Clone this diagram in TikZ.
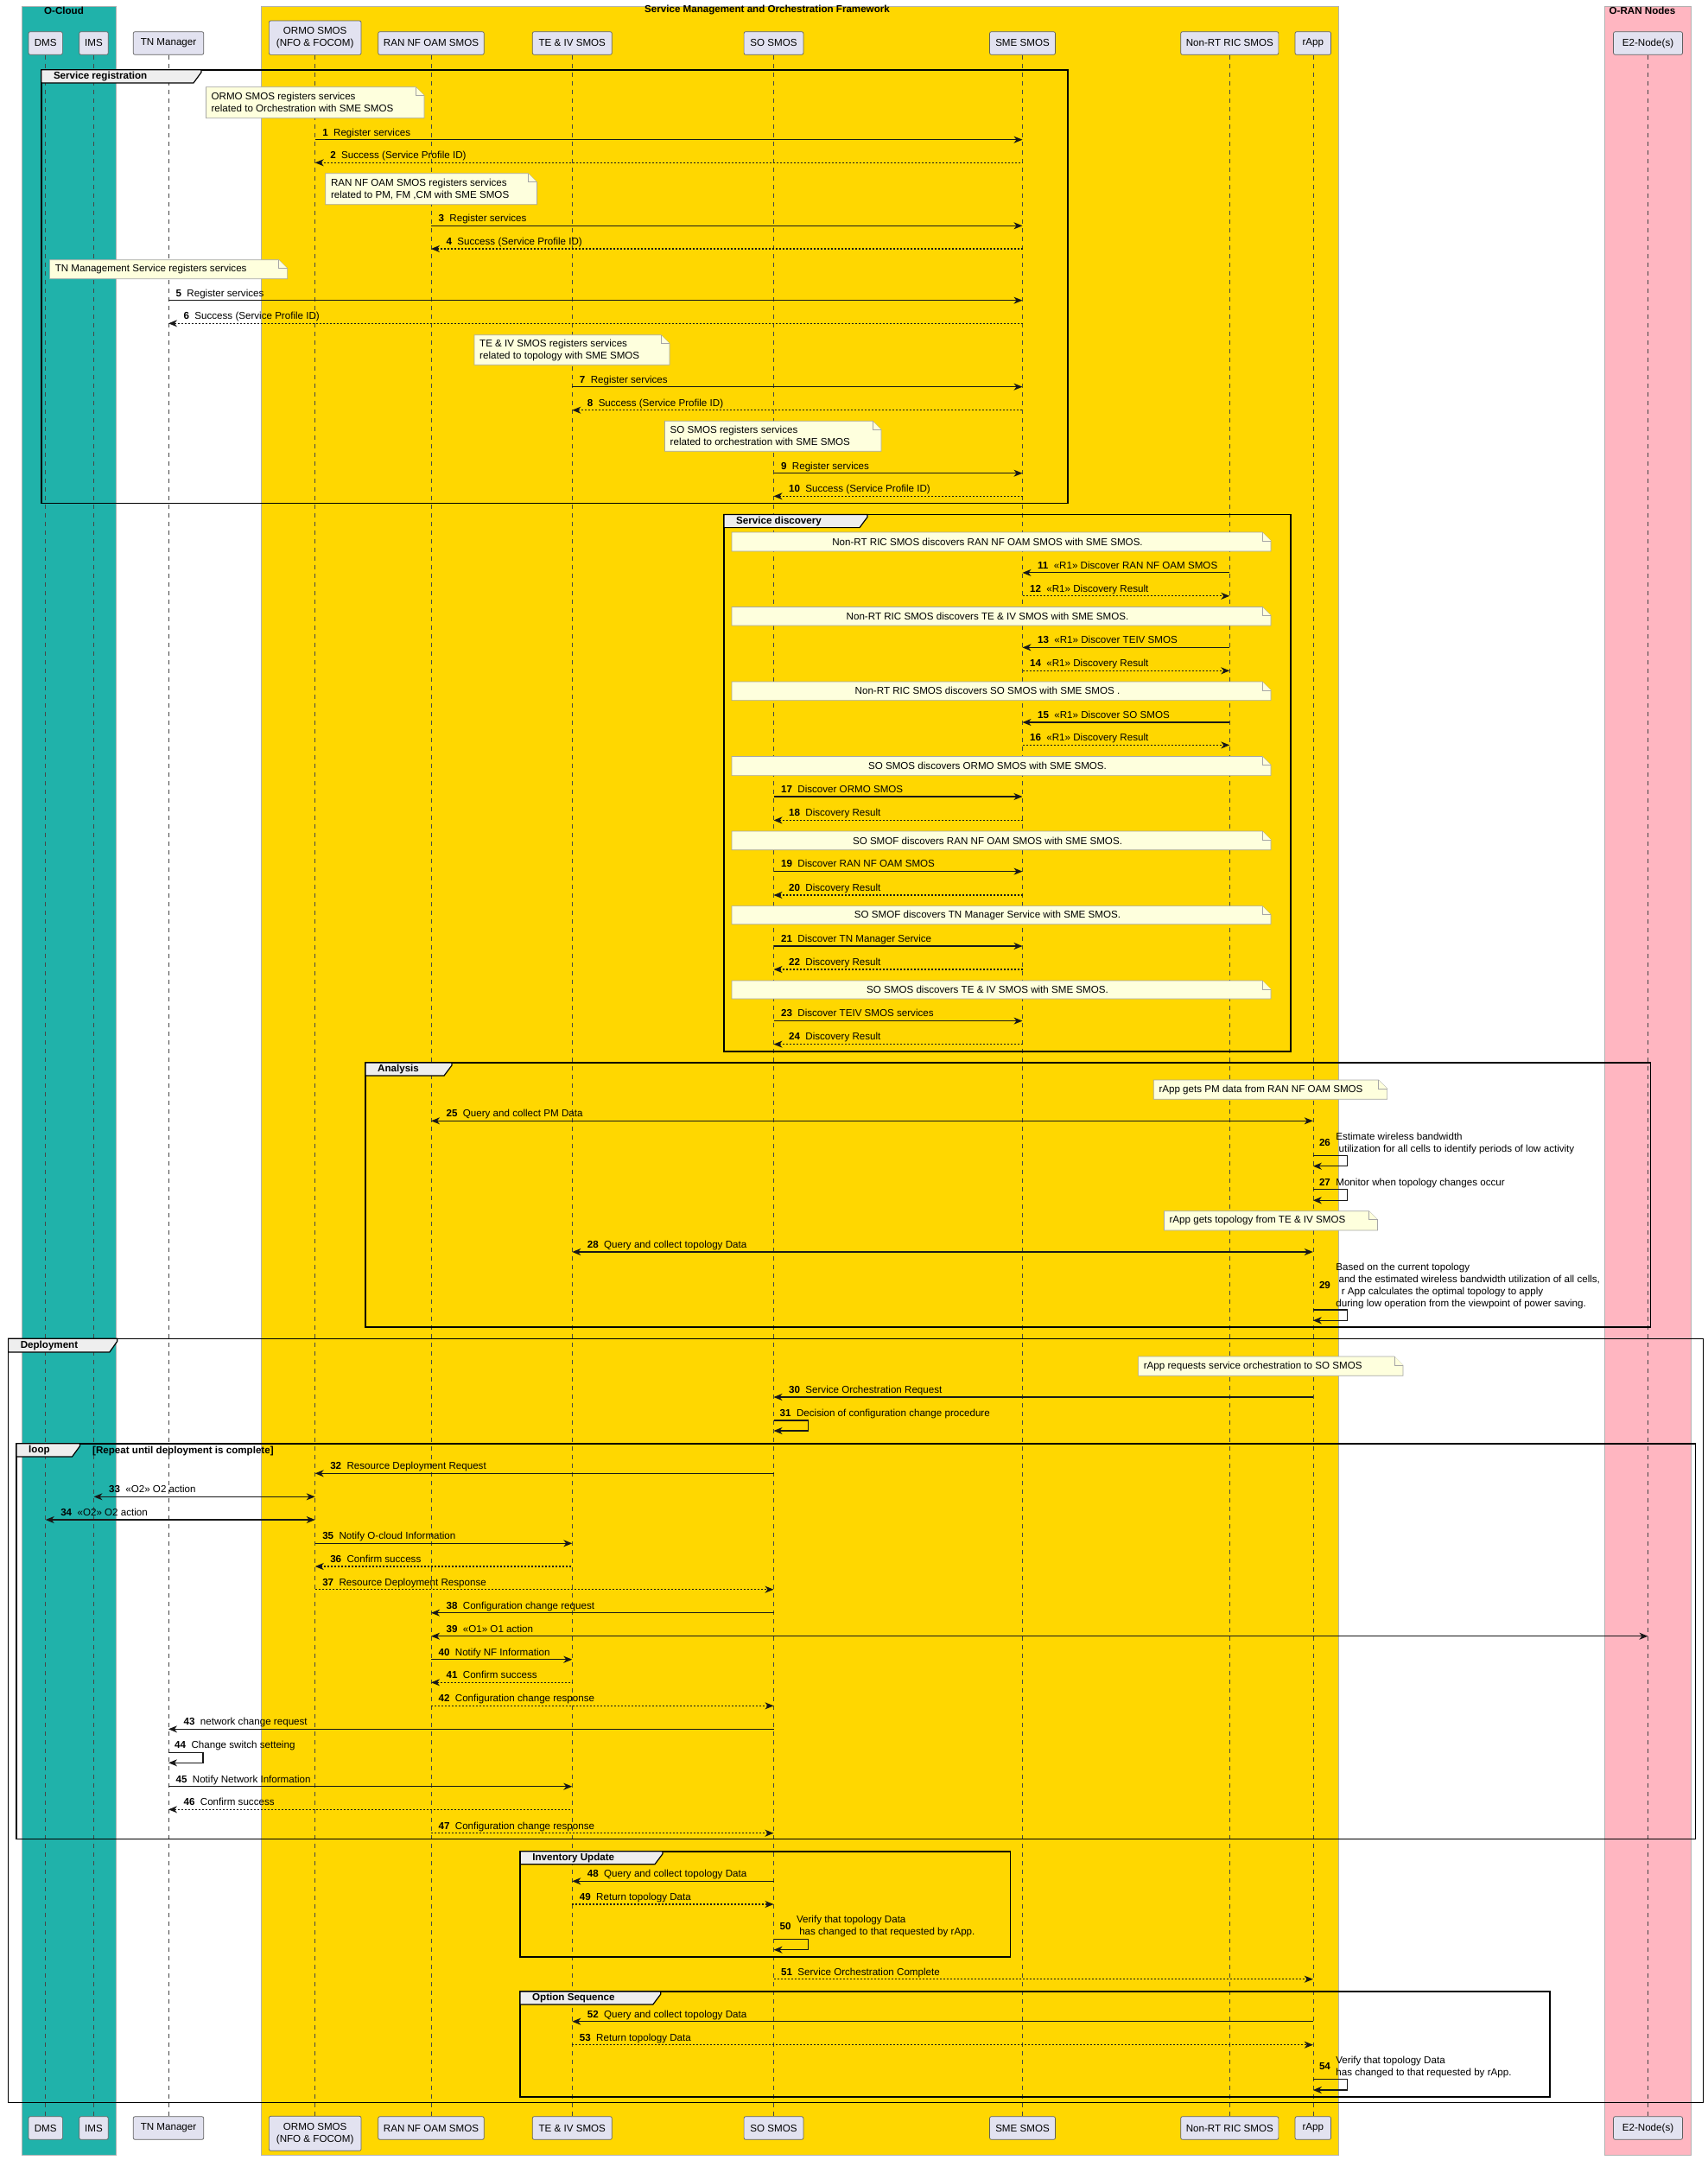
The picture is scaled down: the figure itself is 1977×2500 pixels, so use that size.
\documentclass[tikz,border=0pt]{standalone}
\usepackage{fontspec}
\setmainfont{Liberation Sans}
\usepackage{xcolor}
\usetikzlibrary{arrows.meta}

\definecolor{ocloud}{HTML}{20B2AA}
\definecolor{smo}{HTML}{FFD700}
\definecolor{oran}{HTML}{FFB6C1}
\definecolor{partfill}{HTML}{E2E2F0}
\definecolor{notefill}{HTML}{FEFFDD}
\definecolor{tabfill}{HTML}{EEEEEE}
\definecolor{ink}{HTML}{181818}

\newcommand{\dfont}{\fontsize{11.6}{14}\selectfont}

% note: x1 y1 x2 y2 (dog-ear at top right)
\newcommand{\drawnote}[4]{%
  \filldraw[notebg] (#1,#2) -- (#3-10,#2) -- (#3,#2+10) -- (#3,#4) -- (#1,#4) -- cycle;
  \draw[notebg] (#3-10,#2) -- (#3-10,#2+10) -- (#3,#2+10);}

% group frame: x1 y1 x2 y2 tabright tabbottom name label
\newcommand{\drawgroup}[8]{%
  \draw[grp] (#1,#2) rectangle (#3,#4);
  \filldraw[grptab] (#1,#2) -- (#5,#2) -- (#5,#2+3) -- (#5-9,#6) -- (#1,#6) -- cycle;
  \node[grplab] (#7) at (#1+14,{(#2+#6)/2}) {#8};}

\begin{document}
\begin{tikzpicture}[x=1pt,y=-1pt,
  every node/.style={font=\dfont, inner sep=0pt},
  >={Stealth[length=10pt,width=8pt,inset=3pt]},
  partbox/.style={draw=gray!75!black, fill=partfill, rounded corners=2pt, line width=0.7pt, align=center, minimum height=26.6pt},
  lifeline/.style={draw=ink!80, line width=0.6pt, dash pattern=on 5pt off 5pt},
  boxttl/.style={font=\dfont\bfseries},
  notebg/.style={fill=notefill, draw=gray!70, line width=0.7pt},
  ntext/.style={anchor=west, align=left},
  grp/.style={draw=black, line width=1.6pt},
  grptab/.style={fill=tabfill, draw=black, line width=1.2pt},
  grplab/.style={anchor=west, font=\dfont\bfseries},
  msg/.style={draw=ink, line width=1.1pt},
  call/.style={msg, ->},
  callb/.style={msg, <-},
  callbi/.style={msg, <->},
  reply/.style={call, dash pattern=on 2pt off 2pt},
  replyb/.style={callb, dash pattern=on 2pt off 2pt},
  mlab/.style={pos=0, anchor=base west, xshift=8pt, yshift=4.7pt},
  mlabb/.style={pos=0, anchor=base west, xshift=17pt, yshift=4.7pt},
  slab/.style={anchor=base west, xshift=7pt, yshift=4.7pt},
  slabm/.style={anchor=west, xshift=7pt}]
\useasboundingbox (0,0) rectangle (1977,2500);

% boxes
\filldraw[fill=ocloud, draw=gray!60, line width=0.8pt] (25,7) rectangle (134.4,2494);
\filldraw[fill=smo, draw=gray!60, line width=0.8pt] (302.7,7) rectangle (1549.5,2494);
\filldraw[fill=oran, draw=gray!60, line width=0.8pt] (1857.4,7) rectangle (1957.6,2494);
\node[boxttl] (tcloud) at (74,12) {O-Cloud};
\node[boxttl] (tsmo) at (888,12) {Service Management and Orchestration Framework};
\node[boxttl] (toran) at (1901,12) {O-RAN Nodes};

% participants
\node[partbox, minimum width=39.3pt] (dms) at (52.7,50) {DMS};
\node[partbox, minimum width=33.5pt] (ims) at (108.5,50) {IMS};
\node[partbox, minimum width=81.5pt] (tnm) at (195,50) {TN Manager};
\node[partbox, minimum width=106.7pt, minimum height=39.3pt] (ormo) at (364.7,43.7) {ORMO SMOS\\(NFO \& FOCOM)};
\node[partbox, minimum width=122.5pt] (ran) at (499,50) {RAN NF OAM SMOS};
\node[partbox, minimum width=92pt] (teiv) at (662.3,50) {TE \& IV SMOS};
\node[partbox, minimum width=68.8pt] (so) at (895.5,50) {SO SMOS};
\node[partbox, minimum width=75.9pt] (sme) at (1183.5,50) {SME SMOS};
\node[partbox, minimum width=113.1pt] (nrt) at (1423.3,50) {Non-RT RIC SMOS};
\node[partbox, minimum width=41.5pt] (rapp) at (1519.8,50) {rApp};
\node[partbox, minimum width=79.9pt] (e2) at (1907.5,50) {E2-Node(s)};

\node[partbox, minimum width=39.3pt] (dmsB) at (52.7,2463) {DMS};
\node[partbox, minimum width=33.5pt] (imsB) at (108.5,2463) {IMS};
\node[partbox, minimum width=81.5pt] (tnmB) at (195,2463) {TN Manager};
\node[partbox, minimum width=106.7pt, minimum height=40pt] (ormoB) at (364.7,2469.3) {ORMO SMOS\\(NFO \& FOCOM)};
\node[partbox, minimum width=122.5pt] (ranB) at (499,2463) {RAN NF OAM SMOS};
\node[partbox, minimum width=92pt] (teivB) at (662.3,2463) {TE \& IV SMOS};
\node[partbox, minimum width=68.8pt] (soB) at (895.5,2463) {SO SMOS};
\node[partbox, minimum width=75.9pt] (smeB) at (1183.5,2463) {SME SMOS};
\node[partbox, minimum width=113.1pt] (nrtB) at (1423.3,2463) {Non-RT RIC SMOS};
\node[partbox, minimum width=41.5pt] (rappB) at (1519.8,2463) {rApp};
\node[partbox, minimum width=79.9pt] (e2B) at (1907.5,2463) {E2-Node(s)};

% lifelines
\draw[lifeline] (dms) -- (dmsB);
\draw[lifeline] (ims) -- (imsB);
\draw[lifeline] (tnm) -- (tnmB);
\draw[lifeline] (ormo) -- (ormoB);
\draw[lifeline] (ran) -- (ranB);
\draw[lifeline] (teiv) -- (teivB);
\draw[lifeline] (so) -- (soB);
\draw[lifeline] (sme) -- (smeB);
\draw[lifeline] (nrt) -- (nrtB);
\draw[lifeline] (rapp) -- (rappB);
\draw[lifeline] (e2) -- (e2B);

% groups
\drawgroup{47.8}{80.7}{1235.7}{582.3}{233}{96}{greg}{Service registration}
\drawgroup{838}{595.5}{1494}{1216.7}{1004}{610.6}{gdisc}{Service discovery}
\drawgroup{423}{1230}{1910.5}{1536}{523}{1245}{gana}{Analysis}
\drawgroup{9.6}{1549.3}{1971.4}{2433.3}{135.8}{1565}{gdep}{Deployment}
\drawgroup{19}{1670.7}{1962.5}{2128.3}{92.5}{1686}{gloop}{loop}
\node[grplab] (gcond) at (107,1679) {[Repeat until deployment is complete]};
\drawgroup{602.2}{2142.7}{1169.4}{2265}{767}{2157.7}{ginv}{Inventory Update}
\drawgroup{602}{2305}{1793.8}{2426.7}{764.8}{2320}{gopt}{Option Sequence}

% service registration
\drawnote{238.4}{100.7}{491}{136.7}
\node[ntext] (n1) at (244.4,118.7) {ORMO SMOS registers services\\related to Orchestration with SME SMOS};
\draw[call] (ormo |- 0,161.7) -- node[mlab] (m1) {\textbf{1}\ \ Register services} (sme |- 0,161.7);
\draw[replyb] (ormo |- 0,188.3) -- node[mlabb] (m2) {\textbf{2}\ \ Success (Service Profile ID)} (sme |- 0,188.3);
\drawnote{376.8}{200.7}{621.4}{236.7}
\node[ntext] (n2) at (382.8,218.7) {RAN NF OAM SMOS registers services\\related to PM, FM ,CM with SME SMOS};
\draw[call] (ran |- 0,261.3) -- node[mlab] (m3) {\textbf{3}\ \ Register services} (sme |- 0,261.3);
\draw[replyb] (ran |- 0,288) -- node[mlabb] (m4) {\textbf{4}\ \ Success (Service Profile ID)} (sme |- 0,288);
\drawnote{57.6}{300.7}{332.6}{322.7}
\node[ntext] (n3) at (63.6,311.7) {TN Management Service registers services};
\draw[call] (tnm |- 0,347.7) -- node[mlab] (m5) {\textbf{5}\ \ Register services} (sme |- 0,347.7);
\draw[replyb] (tnm |- 0,374.3) -- node[mlabb] (m6) {\textbf{6}\ \ Success (Service Profile ID)} (sme |- 0,374.3);
\drawnote{549}{387.7}{775}{422.3}
\node[ntext] (n4) at (555,405) {TE \& IV SMOS registers services\\related to topology with SME SMOS};
\draw[call] (teiv |- 0,447.7) -- node[mlab] (m7) {\textbf{7}\ \ Register services} (sme |- 0,447.7);
\draw[replyb] (teiv |- 0,474.7) -- node[mlabb] (m8) {\textbf{8}\ \ Success (Service Profile ID)} (sme |- 0,474.7);
\drawnote{769.5}{487.3}{1020}{522.3}
\node[ntext] (n5) at (775.5,504.8) {SO SMOS registers services\\related to orchestration with SME SMOS};
\draw[call] (so |- 0,547.7) -- node[mlab] (m9) {\textbf{9}\ \ Register services} (sme |- 0,547.7);
\draw[replyb] (so |- 0,574.3) -- node[mlabb] (m10) {\textbf{10}\ \ Success (Service Profile ID)} (sme |- 0,574.3);

% service discovery
\drawnote{847}{616}{1471}{638}
\node (n6) at (1143,627) {Non-RT RIC SMOS discovers RAN NF OAM SMOS with SME SMOS.};
\draw[callb] (sme |- 0,662.9) -- node[mlabb] (m11) {\textbf{11}\ \ «R1» Discover RAN NF OAM SMOS} (nrt |- 0,662.9);
\draw[reply] (sme |- 0,689.8) -- node[mlab] (m12) {\textbf{12}\ \ «R1» Discovery Result} (nrt |- 0,689.8);
\drawnote{847}{702.4}{1471}{724}
\node (n7) at (1143,713.2) {Non-RT RIC SMOS discovers TE \& IV SMOS with SME SMOS.};
\draw[callb] (sme |- 0,749.4) -- node[mlabb] (m13) {\textbf{13}\ \ «R1» Discover TEIV SMOS} (nrt |- 0,749.4);
\draw[reply] (sme |- 0,776.3) -- node[mlab] (m14) {\textbf{14}\ \ «R1» Discovery Result} (nrt |- 0,776.3);
\drawnote{847}{789}{1471}{810.6}
\node (n8) at (1143,799.8) {Non-RT RIC SMOS discovers SO SMOS with SME SMOS .};
\draw[callb] (sme |- 0,836) -- node[mlabb] (m15) {\textbf{15}\ \ «R1» Discover SO SMOS} (nrt |- 0,836);
\draw[reply] (sme |- 0,862.4) -- node[mlab] (m16) {\textbf{16}\ \ «R1» Discovery Result} (nrt |- 0,862.4);
\drawnote{847}{875.5}{1471}{897.6}
\node (n9) at (1143,886.5) {SO SMOS discovers ORMO SMOS with SME SMOS.};
\draw[call] (so |- 0,922) -- node[mlab] (m17) {\textbf{17}\ \ Discover ORMO SMOS} (sme |- 0,922);
\draw[replyb] (so |- 0,949.4) -- node[mlabb] (m18) {\textbf{18}\ \ Discovery Result} (sme |- 0,949.4);
\drawnote{847}{962}{1471}{983.7}
\node (n10) at (1143,972.9) {SO SMOF discovers RAN NF OAM SMOS with SME SMOS.};
\draw[call] (so |- 0,1008.6) -- node[mlab] (m19) {\textbf{19}\ \ Discover RAN NF OAM SMOS} (sme |- 0,1008.6);
\draw[replyb] (so |- 0,1036) -- node[mlabb] (m20) {\textbf{20}\ \ Discovery Result} (sme |- 0,1036);
\drawnote{847}{1048.6}{1471}{1069.8}
\node (n11) at (1143,1059.2) {SO SMOF discovers TN Manager Service with SME SMOS.};
\draw[call] (so |- 0,1095) -- node[mlab] (m21) {\textbf{21}\ \ Discover TN Manager Service} (sme |- 0,1095);
\draw[replyb] (so |- 0,1122) -- node[mlabb] (m22) {\textbf{22}\ \ Discovery Result} (sme |- 0,1122);
\drawnote{847}{1135}{1471}{1156}
\node (n12) at (1143,1145.5) {SO SMOS discovers TE \& IV SMOS with SME SMOS.};
\draw[call] (so |- 0,1181.6) -- node[mlab] (m23) {\textbf{23}\ \ Discover TEIV SMOS services} (sme |- 0,1181.6);
\draw[replyb] (so |- 0,1208.6) -- node[mlabb] (m24) {\textbf{24}\ \ Discovery Result} (sme |- 0,1208.6);

% analysis
\drawnote{1335.3}{1250}{1605.6}{1272.3}
\node[ntext] (n13) at (1341.3,1261.2) {rApp gets PM data from RAN NF OAM SMOS};
\draw[callbi] (ran |- 0,1297.3) -- node[mlabb] (m25) {\textbf{25}\ \ Query and collect PM Data} (rapp |- 0,1297.3);
\draw[call] (rapp |- 0,1337.3) -- ++(40,0) -- ++(0,12.4) -- (rapp |- 0,1349.7);
\node[slabm] (m26) at (rapp |- 0,1323.4) {\textbf{26}\ \ \begin{tabular}{@{}l@{}}Estimate wireless bandwidth\\\ utilization for all cells to identify periods of low activity\end{tabular}};
\draw[call] (rapp |- 0,1376.7) -- ++(40,0) -- ++(0,12.6) -- (rapp |- 0,1389.3);
\node[slab] (m27) at (rapp |- 0,1376.7) {\textbf{27}\ \ Monitor when topology changes occur};
\drawnote{1347.4}{1401.7}{1594.5}{1424}
\node[ntext] (n14) at (1353.4,1412.9) {rApp gets topology from TE \& IV SMOS};
\draw[callbi] (teiv |- 0,1449) -- node[mlabb] (m28) {\textbf{28}\ \ Query and collect topology Data} (rapp |- 0,1449);
\draw[call] (rapp |- 0,1516) -- ++(40,0) -- ++(0,12.3) -- (rapp |- 0,1528.3);
\node[slabm] (m29) at (rapp |- 0,1488.4) {\textbf{29}\ \ \begin{tabular}{@{}l@{}}Based on the current topology\\\ and the estimated wireless bandwidth utilization of all cells,\\\ \ r App calculates the optimal topology to apply\\during low operation from the viewpoint of power saving.\end{tabular}};

% deployment
\drawnote{1317.6}{1570}{1624}{1592.3}
\node[ntext] (n15) at (1323.6,1581.2) {rApp requests service orchestration to SO SMOS};
\draw[callb] (so |- 0,1617) -- node[mlabb] (m30) {\textbf{30}\ \ Service Orchestration Request} (rapp |- 0,1617);
\draw[call] (so |- 0,1644) -- ++(40,0) -- ++(0,12) -- (so |- 0,1656);
\node[slab] (m31) at (so |- 0,1644) {\textbf{31}\ \ Decision of configuration change procedure};
\draw[callb] (ormo |- 0,1705.3) -- node[mlabb] (m32) {\textbf{32}\ \ Resource Deployment Request} (so |- 0,1705.3);
\draw[callbi] (ims |- 0,1732.3) -- node[mlabb] (m33) {\textbf{33}\ \ «O2» O2 action} (ormo |- 0,1732.3);
\draw[callbi] (dms |- 0,1759) -- node[mlabb] (m34) {\textbf{34}\ \ «O2» O2 action} (ormo |- 0,1759);
\draw[call] (ormo |- 0,1786.3) -- node[mlab] (m35) {\textbf{35}\ \ Notify O-cloud Information} (teiv |- 0,1786.3);
\draw[replyb] (ormo |- 0,1813) -- node[mlabb] (m36) {\textbf{36}\ \ Confirm success} (teiv |- 0,1813);
\draw[reply] (ormo |- 0,1839.7) -- node[mlab] (m37) {\textbf{37}\ \ Resource Deployment Response} (so |- 0,1839.7);
\draw[callb] (ran |- 0,1866.7) -- node[mlabb] (m38) {\textbf{38}\ \ Configuration change request} (so |- 0,1866.7);
\draw[callbi] (ran |- 0,1893.7) -- node[mlabb] (m39) {\textbf{39}\ \ «O1» O1 action} (e2 |- 0,1893.7);
\draw[call] (ran |- 0,1920.7) -- node[mlab] (m40) {\textbf{40}\ \ Notify NF Information} (teiv |- 0,1920.7);
\draw[replyb] (ran |- 0,1947.3) -- node[mlabb] (m41) {\textbf{41}\ \ Confirm success} (teiv |- 0,1947.3);
\draw[reply] (ran |- 0,1974.3) -- node[mlab] (m42) {\textbf{42}\ \ Configuration change response} (so |- 0,1974.3);
\draw[callb] (tnm |- 0,2001.3) -- node[mlabb] (m43) {\textbf{43}\ \ network change request} (so |- 0,2001.3);
\draw[call] (tnm |- 0,2028.3) -- ++(40,0) -- ++(0,12) -- (tnm |- 0,2040.3);
\node[slab] (m44) at (tnm |- 0,2028.3) {\textbf{44}\ \ Change switch setteing};
\draw[call] (tnm |- 0,2067.7) -- node[mlab] (m45) {\textbf{45}\ \ Notify Network Information} (teiv |- 0,2067.7);
\draw[replyb] (tnm |- 0,2094.3) -- node[mlabb] (m46) {\textbf{46}\ \ Confirm success} (teiv |- 0,2094.3);
\draw[reply] (ran |- 0,2121.7) -- node[mlab] (m47) {\textbf{47}\ \ Configuration change response} (so |- 0,2121.7);

% inventory update
\draw[callb] (teiv |- 0,2177.3) -- node[mlabb] (m48) {\textbf{48}\ \ Query and collect topology Data} (so |- 0,2177.3);
\draw[reply] (teiv |- 0,2204) -- node[mlab] (m49) {\textbf{49}\ \ Return topology Data} (so |- 0,2204);
\draw[call] (so |- 0,2244.3) -- ++(40,0) -- ++(0,12.4) -- (so |- 0,2256.7);
\node[slabm] (m50) at (so |- 0,2230) {\textbf{50}\ \ \begin{tabular}{@{}l@{}}Verify that topology Data\\\ has changed to that requested by rApp.\end{tabular}};
\draw[reply] (so |- 0,2290.7) -- node[mlab] (m51) {\textbf{51}\ \ Service Orchestration Complete} (rapp |- 0,2290.7);

% option sequence
\draw[callb] (teiv |- 0,2339.7) -- node[mlabb] (m52) {\textbf{52}\ \ Query and collect topology Data} (rapp |- 0,2339.7);
\draw[reply] (teiv |- 0,2366.7) -- node[mlab] (m53) {\textbf{53}\ \ Return topology Data} (rapp |- 0,2366.7);
\draw[call] (rapp |- 0,2406.7) -- ++(40,0) -- ++(0,12.3) -- (rapp |- 0,2419);
\node[slabm] (m54) at (rapp |- 0,2392.8) {\textbf{54}\ \ \begin{tabular}{@{}l@{}}Verify that topology Data\\has changed to that requested by rApp.\end{tabular}};
\end{tikzpicture}
\end{document}
